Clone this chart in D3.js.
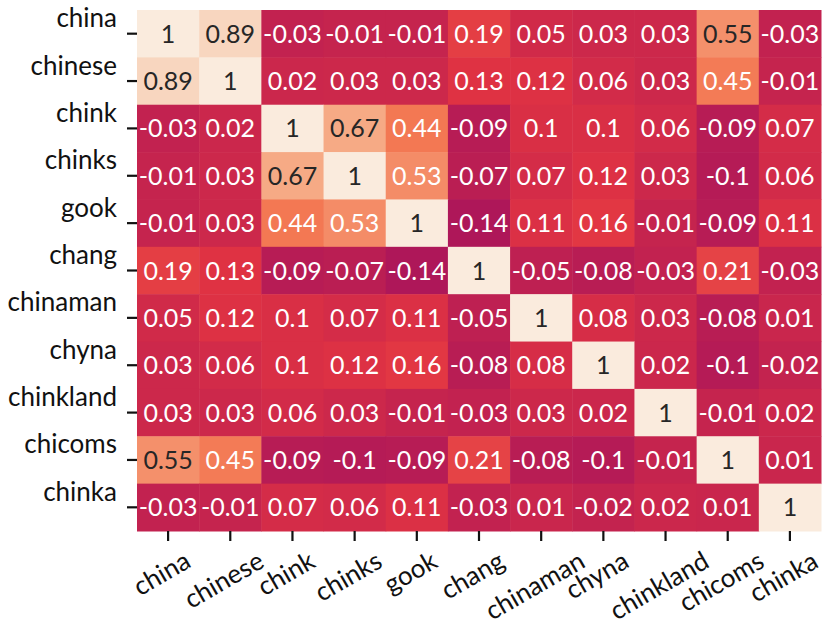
<!DOCTYPE html>
<html lang="en">
	<head>
		<meta charset="utf-8">
		<title>Heatmap</title>
		<script src="https://cdn.jsdelivr.net/npm/d3@7/dist/d3.min.js"></script>
		<style type="text/css">
			body { margin: 0; background: #fff; }
			text { font-family: Lato, "Open Sans", sans-serif; }
		</style>
	</head>
	<body>
		<script type="text/javascript">

			//Width and height
			var w = 830;
			var h = 627;

			//Words, same order on both axes
			var words = ["china", "chinese", "chink", "chinks", "gook", "chang",
			             "chinaman", "chyna", "chinkland", "chicoms", "chinka"];

			//One row per word
			var china     = [1, 0.89, -0.03, -0.01, -0.01, 0.19, 0.05, 0.03, 0.03, 0.55, -0.03];
			var chinese   = [0.89, 1, 0.02, 0.03, 0.03, 0.13, 0.12, 0.06, 0.03, 0.45, -0.01];
			var chink     = [-0.03, 0.02, 1, 0.67, 0.44, -0.09, 0.1, 0.1, 0.06, -0.09, 0.07];
			var chinks    = [-0.01, 0.03, 0.67, 1, 0.53, -0.07, 0.07, 0.12, 0.03, -0.1, 0.06];
			var gook      = [-0.01, 0.03, 0.44, 0.53, 1, -0.14, 0.11, 0.16, -0.01, -0.09, 0.11];
			var chang     = [0.19, 0.13, -0.09, -0.07, -0.14, 1, -0.05, -0.08, -0.03, 0.21, -0.03];
			var chinaman  = [0.05, 0.12, 0.1, 0.07, 0.11, -0.05, 1, 0.08, 0.03, -0.08, 0.01];
			var chyna     = [0.03, 0.06, 0.1, 0.12, 0.16, -0.08, 0.08, 1, 0.02, -0.1, -0.02];
			var chinkland = [0.03, 0.03, 0.06, 0.03, -0.01, -0.03, 0.03, 0.02, 1, -0.01, 0.02];
			var chicoms   = [0.55, 0.45, -0.09, -0.1, -0.09, 0.21, -0.08, -0.1, -0.01, 1, 0.01];
			var chinka    = [-0.03, -0.01, 0.07, 0.06, 0.11, -0.03, 0.01, -0.02, 0.02, 0.01, 1];

			var matrix = [china, chinese, chink, chinks, gook, chang,
			              chinaman, chyna, chinkland, chicoms, chinka];

			//Flatten into cells
			var dataset = [];
			matrix.forEach(function(row, i) {
				row.forEach(function(v, j) {
					dataset.push({ row: words[i], col: words[j], value: v });
				});
			});

			//Plot area
			var x0 = 137, x1 = 821, y0 = 10, y1 = 531;

			var xScale = d3.scaleBand().domain(words).range([x0, x1]);
			var yScale = d3.scaleBand().domain(words).range([y0, y1]);

			//rocket-like colour map, vmin -1 .. vmax 1
			var rocket = d3.scaleLinear()
				.domain([0, 1/7, 2/7, 3/7, 4/7, 5/7, 6/7, 1])
				.range(["#03051a", "#35193e", "#701f57", "#ad1759", "#e13342", "#f37651", "#f6b48f", "#faebdd"])
				.interpolate(d3.interpolateRgb);
			var norm = d3.scaleLinear().domain([-1, 1]).range([0, 1]);
			var colour = function(v) { return rocket(norm(v)); };

			//Dark text on light cells
			var luminance = function(c) {
				var rgb = d3.rgb(c);
				var lin = [rgb.r, rgb.g, rgb.b].map(function(x) {
					x = x / 255;
					return x <= 0.03928 ? x / 12.92 : Math.pow((x + 0.055) / 1.055, 2.4);
				});
				return 0.2126 * lin[0] + 0.7152 * lin[1] + 0.0722 * lin[2];
			};

			var fmt = d3.formatLocale({ decimal: ".", thousands: ",", grouping: [3],
			                            currency: ["", ""], minus: "-" }).format(".2~g");

			//Create SVG element
			var svg = d3.select("body")
						.append("svg")
						.attr("width", w)
						.attr("height", h);

			svg.append("rect").attr("width", w).attr("height", h).attr("fill", "#fff");

			//Cells
			svg.selectAll("rect.cell")
			   .data(dataset)
			   .enter()
			   .append("rect")
			   .attr("class", "cell")
			   .attr("x", function(d) { return xScale(d.col); })
			   .attr("y", function(d) { return yScale(d.row); })
			   .attr("width", xScale.bandwidth() + 0.5)
			   .attr("height", yScale.bandwidth() + 0.5)
			   .attr("fill", function(d) { return colour(d.value); });

			//Annotations
			svg.selectAll("text.annot")
			   .data(dataset)
			   .enter()
			   .append("text")
			   .attr("class", "annot")
			   .attr("x", function(d) { return xScale(d.col) + xScale.bandwidth() / 2; })
			   .attr("y", function(d) { return yScale(d.row) + yScale.bandwidth() / 2; })
			   .attr("dy", "0.36em")
			   .attr("text-anchor", "middle")
			   .attr("font-size", "25px")
			   .attr("fill", function(d) {
			   		return luminance(colour(d.value)) > 0.397 ? "#262626" : "#fff";
			   })
			   .text(function(d) { return fmt(d.value); });

			//Y axis
			var yAxis = svg.append("g")
				.attr("transform", "translate(" + x0 + ",0)")
				.call(d3.axisLeft(yScale).tickSize(10).tickPadding(0));
			yAxis.select(".domain").remove();
			yAxis.selectAll(".tick line").attr("stroke", "#111").attr("stroke-width", 2.2);
			yAxis.selectAll(".tick text")
				.attr("x", -20)
				.attr("dy", "-6.5")
				.attr("font-size", "26px")
				.attr("font-family", "Lato, sans-serif")
				.attr("fill", "#111");

			//X axis
			var xAxis = svg.append("g")
				.attr("transform", "translate(0," + y1 + ")")
				.call(d3.axisBottom(xScale).tickSize(10).tickPadding(0));
			xAxis.select(".domain").remove();
			xAxis.selectAll(".tick line").attr("stroke", "#111").attr("stroke-width", 2.2);
			xAxis.selectAll(".tick text")
				.attr("font-size", "26px")
				.attr("font-family", "Lato, sans-serif")
				.attr("fill", "#111")
				.attr("text-anchor", "middle")
				.attr("dy", "0.32em")
				.attr("y", 0)
				.each(function() {
					var t = d3.select(this);
					var tw = this.getComputedTextLength();
					var fs = 26 * 1.15;
					var a = Math.PI / 6;
					var bh = tw * Math.sin(a) + fs * Math.cos(a);
					var cx = -6;
					var cy = 15 + bh / 2;
					t.attr("transform", "translate(" + cx + "," + cy + ") rotate(-30)");
				});

		</script>
	</body>
</html>
